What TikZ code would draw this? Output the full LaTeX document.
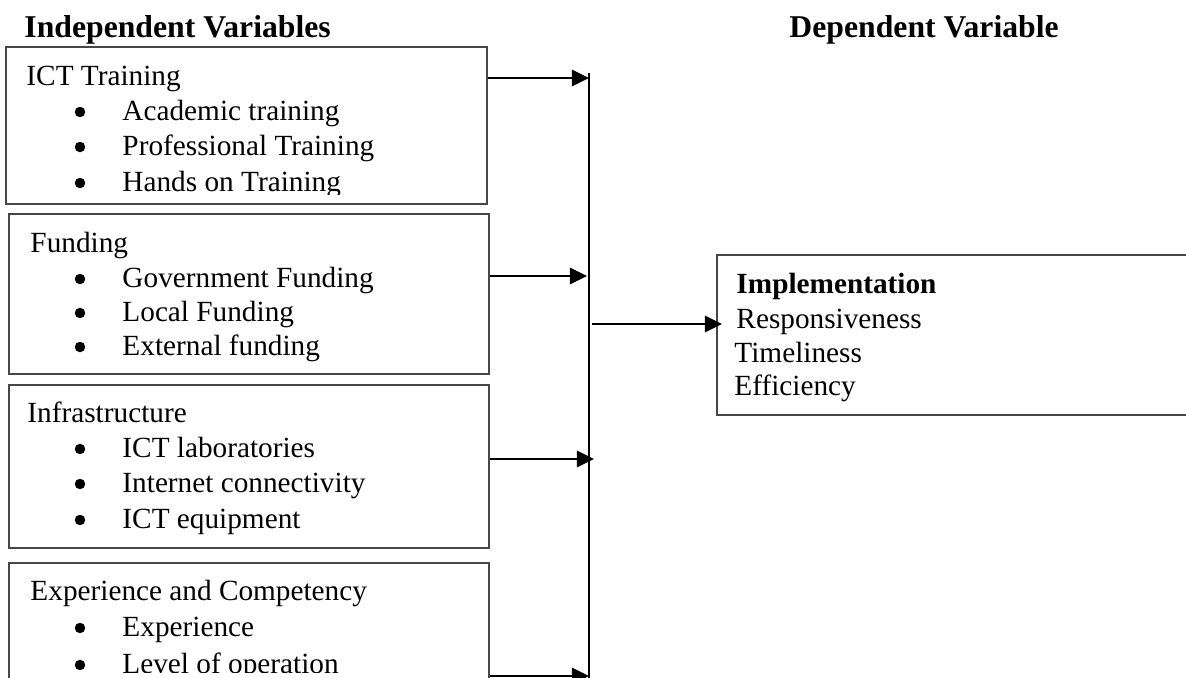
\documentclass[tikz,border=0pt]{standalone}
\usepackage{fontspec}
\setmainfont{Liberation Serif}
\usetikzlibrary{arrows.meta}

\begin{document}
\begin{tikzpicture}[x=0.41pt, y=-0.41pt,
  varbox/.style={draw=black!72, line width=0.65pt, rectangle, inner sep=0pt},
  head/.style={anchor=base west, inner sep=0pt, font=\fontsize{13}{15}\selectfont\bfseries},
  txt/.style={anchor=base west, inner sep=0pt, font=\fontsize{12}{14}\selectfont},
  bul/.style={circle, fill=black, inner sep=0pt, minimum size=4.3pt},
  link/.style={-{Triangle[length=7pt, width=6.6pt]}, line width=1.2pt},
  bus/.style={line width=0.5pt}]

\useasboundingbox (0,0) rectangle (1186,677);

% column titles
\node[head] at ( 24, 37) (indtitle) {Independent Variables};
\node[head] at (789, 37) (deptitle) {Dependent Variable};

% boxes, left column
\node[varbox, minimum width=197.2pt, minimum height=64.4pt] at (246.5, 125.5) (ictbox) {};
\node[varbox, minimum width=196.8pt, minimum height=65.6pt] at (249, 294) (fundbox) {};
\node[varbox, minimum width=196.8pt, minimum height=66.8pt] at (249, 466.5) (infrabox) {};
\node[varbox, minimum width=196.8pt, minimum height=64.4pt] at (249, 641.5) (expbox) {};

% box, right column
\node[varbox, minimum width=206.2pt, minimum height=65.6pt] at (968.5, 335) (implbox) {};

% ict training (text runs over the bottom edge)
\begin{scope}
\clip (0, 47) rectangle (487, 194);
\node[txt] at ( 26,  85) (ict) {ICT Training};
\node[bul] at ( 80, 112) (ictb1) {};
\node[txt] at (122, 120) (ict1) {Academic training};
\node[bul] at ( 80, 147) (ictb2) {};
\node[txt] at (122, 155) (ict2) {Professional Training};
\node[bul] at ( 80, 183) (ictb3) {};
\node[txt] at (122, 191) (ict3) {Hands on Training};
\end{scope}

% funding
\node[txt] at ( 30, 252) (fund) {Funding};
\node[bul] at ( 80, 279) (fundb1) {};
\node[txt] at (122, 287) (fund1) {Government Funding};
\node[bul] at ( 80, 313) (fundb2) {};
\node[txt] at (122, 321) (fund2) {Local Funding};
\node[bul] at ( 80, 347) (fundb3) {};
\node[txt] at (122, 355) (fund3) {External funding};

% infrastructure
\node[txt] at ( 27, 422) (infra) {Infrastructure};
\node[bul] at ( 80, 449) (infrab1) {};
\node[txt] at (122, 457) (infra1) {ICT laboratories};
\node[bul] at ( 80, 484) (infrab2) {};
\node[txt] at (122, 492) (infra2) {Internet connectivity};
\node[bul] at ( 80, 520) (infrab3) {};
\node[txt] at (122, 528) (infra3) {ICT equipment};

% experience (text runs over the page edge)
\begin{scope}
\clip (0, 563) rectangle (489, 672);
\node[txt] at ( 30, 600) (exp) {Experience and Competency};
\node[bul] at ( 80, 628) (expb1) {};
\node[txt] at (122, 636) (exp1) {Experience};
\node[bul] at ( 80, 665) (expb2) {};
\node[txt] at (122, 673) (exp2) {Level of operation};
\end{scope}

% implementation
\node[txt] at (736, 293) (impl) {\bfseries Implementation};
\node[txt] at (736, 328) (impl1) {Responsiveness};
\node[txt] at (734, 362) (impl2) {Timeliness};
\node[txt] at (734, 395) (impl3) {Efficiency};

% bus line and arrows
\coordinate (bustop) at (589, 73);
\coordinate (busbot) at (589, 690);
\draw[bus] (bustop) -- (busbot);

\coordinate (in1) at (589, 78);
\coordinate (in2) at (587, 276);
\coordinate (in3) at (594, 459);
\coordinate (in4) at (589, 676);
\draw[link] (ictbox.east |- in1) -- (in1);
\draw[link] (fundbox.east |- in2) -- (in2);
\draw[link] (infrabox.east |- in3) -- (in3);
\draw[link] (expbox.east |- in4) -- (in4);

\coordinate (out) at (592, 324);
\coordinate (implin) at (722, 324);
\draw[link] (out) -- (implin);

\end{tikzpicture}
\end{document}
